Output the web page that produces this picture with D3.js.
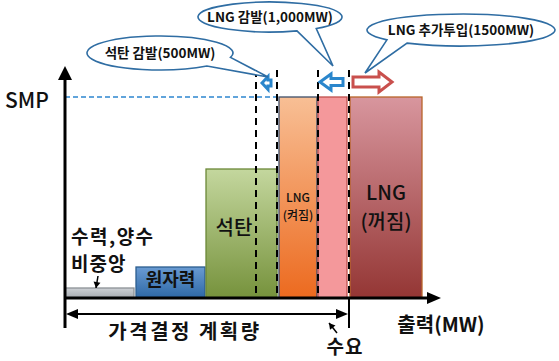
<!DOCTYPE html>
<html>
<head>
<meta charset="utf-8">
<script src="https://cdn.jsdelivr.net/npm/d3@7"></script>
<style>
  html, body { margin: 0; padding: 0; background: #fff; }
  svg { display: block; }
  text { font-family: "Noto Sans CJK KR", "Noto Sans", sans-serif; }
</style>
</head>
<body>
<div id="chart"></div>
<script>
// merit-order blocks (output in arbitrary MW units, price in arbitrary units)
const plantNames = ["수력,양수 비중앙", "원자력", "석탄", "LNG(켜짐)", "LNG 감발분", "LNG(꺼짐)"];
const blockStart = [0, 71, 141, 214, 253, 285];
const blockEnd = [69, 140, 212, 252, 282, 357];
const blockPrice = [10, 31, 129, 201, 201, 201];

const smp = 201;
const demand = 284;
const cutLines = [191, 212, 253, 284];

const calloutTexts = ["석탄 감발(500MW)", "LNG 감발(1,000MW)", "LNG 추가투입(1500MW)"];

const W = 559, H = 361;

const svg = d3.select("#chart").append("svg")
    .attr("width", W)
    .attr("height", H);

const x = d3.scaleLinear().domain([0, 375]).range([65, 440]);
const y = d3.scaleLinear().domain([0, 230]).range([298, 68]);

// gradients
const defs = svg.append("defs");
const grads = [
    ["g0", "#cdd1d5", "#a6abb0"],
    ["g1", "#6a9bd2", "#2d68a6"],
    ["g2", "#c4d79e", "#76923c"],
    ["g3", "#f8bf95", "#ec6a1f"],
    ["g4", "#f4989b", "#f4989b"],
    ["g5", "#d8969e", "#943634"]
];
grads.forEach(([id, c0, c1]) => {
    const lg = defs.append("linearGradient").attr("id", id)
        .attr("x1", 0).attr("y1", 0).attr("x2", 0).attr("y2", 1);
    lg.append("stop").attr("offset", "0%").attr("stop-color", c0);
    lg.append("stop").attr("offset", "100%").attr("stop-color", c1);
});
const borders = ["#8c9196", "#2c5d8f", "#6b8838", "#3d4f6a", "#c0504d", "#b8652a"];

// bars
svg.append("g")
    .selectAll("rect")
    .data(plantNames)
    .join("rect")
    .attr("x", (d, i) => x(blockStart[i]))
    .attr("y", (d, i) => y(blockPrice[i]))
    .attr("width", (d, i) => x(blockEnd[i]) - x(blockStart[i]))
    .attr("height", (d, i) => y(0) - y(blockPrice[i]))
    .attr("fill", (d, i) => `url(#g${i})`)
    .attr("stroke", (d, i) => borders[i])
    .attr("stroke-width", 1.3);

// SMP line
svg.append("line")
    .attr("x1", x(0)).attr("x2", x(blockStart[3]))
    .attr("y1", y(smp)).attr("y2", y(smp))
    .attr("stroke", "#2e86d0")
    .attr("stroke-width", 1.5)
    .attr("stroke-dasharray", "5,3");

// dashed boundaries
svg.append("g")
    .selectAll("line")
    .data(cutLines)
    .join("line")
    .attr("x1", d => x(d)).attr("x2", d => x(d))
    .attr("y1", 70).attr("y2", y(0))
    .attr("stroke", "#000")
    .attr("stroke-width", 2)
    .attr("stroke-dasharray", "7,5");

// demand line below axis
svg.append("line")
    .attr("x1", x(demand)).attr("x2", x(demand))
    .attr("y1", y(0)).attr("y2", 328)
    .attr("stroke", "#000").attr("stroke-width", 2);

// axes
svg.append("line")
    .attr("x1", x(0)).attr("x2", x(0))
    .attr("y1", 328).attr("y2", 78)
    .attr("stroke", "#000").attr("stroke-width", 3);
svg.append("path")
    .attr("d", `M${x(0)},66 L${x(0) - 7},80 L${x(0) + 7},80 Z`)
    .attr("fill", "#000");
svg.append("line")
    .attr("x1", x(0) - 1).attr("x2", 428)
    .attr("y1", y(0)).attr("y2", y(0))
    .attr("stroke", "#000").attr("stroke-width", 3);
svg.append("path")
    .attr("d", `M441,${y(0)} L427,${y(0) - 6} L427,${y(0) + 6} Z`)
    .attr("fill", "#000");

// planned quantity double arrow
const ay = 314;
svg.append("line")
    .attr("x1", x(0) + 8).attr("x2", x(demand) - 8)
    .attr("y1", ay).attr("y2", ay)
    .attr("stroke", "#000").attr("stroke-width", 2);
svg.append("path")
    .attr("d", `M${x(0) + 1},${ay} L${x(0) + 13},${ay - 5} L${x(0) + 13},${ay + 5} Z`)
    .attr("fill", "#000");
svg.append("path")
    .attr("d", `M${x(demand) - 1},${ay} L${x(demand) - 13},${ay - 5} L${x(demand) - 13},${ay + 5} Z`)
    .attr("fill", "#000");

// small pointer arrows
function pointer(x1, y1, x2, y2) {
    svg.append("line")
        .attr("x1", x1).attr("y1", y1).attr("x2", x2).attr("y2", y2)
        .attr("stroke", "#000").attr("stroke-width", 1.5);
    const a = Math.atan2(y2 - y1, x2 - x1);
    const L = 6, s = 3.5;
    const bx = x2 - L * Math.cos(a), by = y2 - L * Math.sin(a);
    svg.append("path")
        .attr("d", `M${x2},${y2} L${bx - s * Math.sin(a)},${by + s * Math.cos(a)} L${bx + s * Math.sin(a)},${by - s * Math.cos(a)} Z`)
        .attr("fill", "#000");
}
pointer(98, 276, 96, 288);
pointer(337, 333, 329, 323);

// block arrows (shift of output)
function blockArrow(x0, x1, yc, h, bh, head, dir, color) {
    let p;
    if (dir < 0) {
        p = [[x0, yc], [x0 + head, yc - h / 2], [x0 + head, yc - bh / 2], [x1, yc - bh / 2],
             [x1, yc + bh / 2], [x0 + head, yc + bh / 2], [x0 + head, yc + h / 2]];
    } else {
        p = [[x1, yc], [x1 - head, yc - h / 2], [x1 - head, yc - bh / 2], [x0, yc - bh / 2],
             [x0, yc + bh / 2], [x1 - head, yc + bh / 2], [x1 - head, yc + h / 2]];
    }
    svg.append("path")
        .attr("d", d3.line()(p) + "Z")
        .attr("fill", "#fff")
        .attr("stroke", color)
        .attr("stroke-width", 3)
        .attr("stroke-linejoin", "miter");
}
blockArrow(x(197), x(206), 83, 13, 6, 6, -1, "#2a86cc");
blockArrow(x(255), x(278), 82, 16, 7, 11, -1, "#2a86cc");
blockArrow(x(288), x(327), 82, 20, 10, 13, 1, "#c9504d");

// callouts
function callout(cx, cy, rx, ry, a1, a2, tx, ty, label) {
    const P = a => [cx + rx * Math.cos(a * Math.PI / 180), cy + ry * Math.sin(a * Math.PI / 180)];
    const s = P(a1), e = P(a2);
    svg.append("path")
        .attr("d", `M${s[0]},${s[1]} A${rx},${ry} 0 1 1 ${e[0]},${e[1]} L${tx},${ty} Z`)
        .attr("fill", "#fff")
        .attr("stroke", "#2f6da3")
        .attr("stroke-width", 1.6);
    svg.append("text")
        .attr("x", cx).attr("y", cy)
        .attr("dy", "0.36em")
        .attr("text-anchor", "middle")
        .attr("font-size", 13.5)
        .attr("font-weight", "bold")
        .attr("fill", "#111")
        .text(label);
}
callout(160, 53, 73, 17, 50, 15, 268, 77, calloutTexts[0]);
callout(270, 17, 72, 15, 68, 50, 333, 66, calloutTexts[1]);
callout(461, 30, 94, 16, 142, 125, 365, 73, calloutTexts[2]);

// labels
function label(tx, ty, str, size, weight, anchor, spacing) {
    svg.append("text")
        .attr("x", tx).attr("y", ty)
        .attr("font-size", size)
        .attr("font-weight", weight || "bold")
        .attr("text-anchor", anchor || "start")
        .attr("letter-spacing", spacing || 0)
        .attr("fill", "#111")
        .text(str);
}
label(5, 108, "SMP", 21, 500);
label(71, 244, "수력,양수", 19, "bold", "start", 1.5);
label(71, 271, "비중앙", 19, "bold", "start", 1);
label((x(blockStart[1]) + x(blockEnd[1])) / 2, 286, plantNames[1], 18, "bold", "middle");
label(234, 235, plantNames[2], 20, 500, "middle");
label((x(blockStart[3]) + x(blockEnd[3])) / 2, 202, "LNG", 12, 500, "middle");
label((x(blockStart[3]) + x(blockEnd[3])) / 2, 220, "(켜짐)", 12, 500, "middle");
label((x(blockStart[5]) + x(blockEnd[5])) / 2, 200, "LNG", 20, 500, "middle");
label((x(blockStart[5]) + x(blockEnd[5])) / 2, 229, "(꺼짐)", 20, 500, "middle");
label(185, 339, "가격결정 계획량", 20, "bold", "middle", 2.5);
label(345, 354, "수요", 19, "bold", "middle", 1);
label(441, 332, "출력(MW)", 20, "bold", "middle");
</script>
</body>
</html>
